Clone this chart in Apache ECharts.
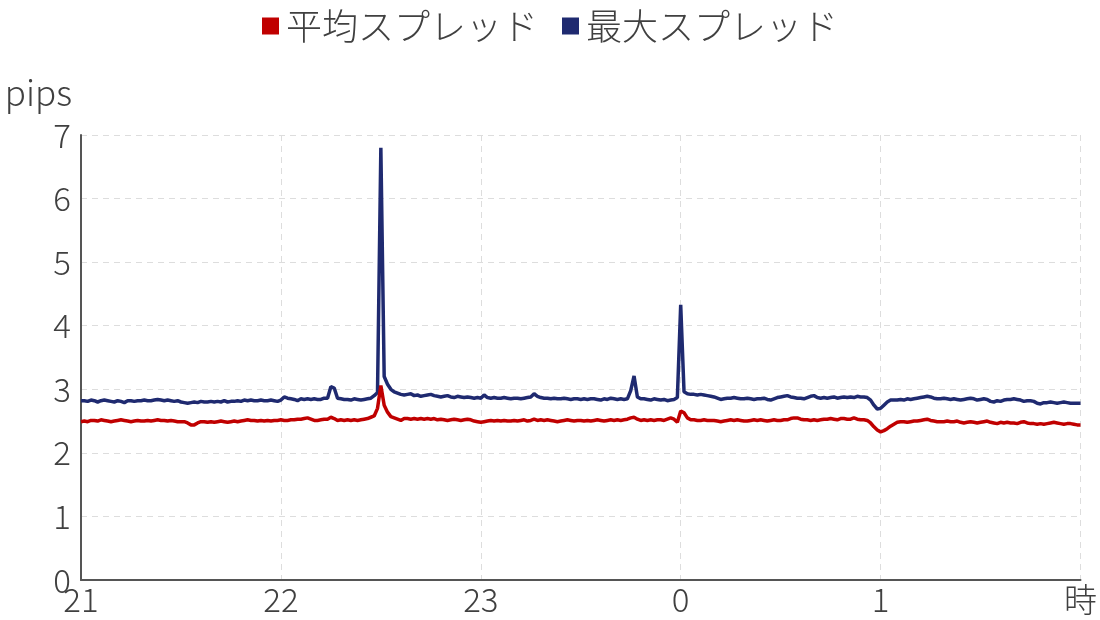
<!DOCTYPE html>
<html>
<head>
<meta charset="utf-8">
<script src="https://cdn.jsdelivr.net/npm/echarts@6/dist/echarts.min.js"></script>
<style>
html,body{margin:0;padding:0;background:#fff;}
#chart{width:1100px;height:620px;}
</style>
</head>
<body>
<div id="chart"></div>
<script>
const seriesNames = ['平均スプレッド', '最大スプレッド'];
const xTickLabels = ['21', '22', '23', '0', '1', '時'];
const yTickLabels = ['0', '1', '2', '3', '4', '5', '6', '7'];
const yAxisName = 'pips';

// one value per minute from 21:00 to 02:00
const avgSpread = [
  2.49,2.50,2.49,2.51,2.51,2.50,2.52,2.51,2.50,2.49,
  2.50,2.51,2.52,2.51,2.50,2.49,2.50,2.51,2.50,2.50,
  2.51,2.50,2.51,2.52,2.51,2.51,2.50,2.51,2.50,2.49,
  2.49,2.49,2.47,2.44,2.44,2.47,2.49,2.49,2.48,2.49,
  2.48,2.49,2.50,2.49,2.48,2.49,2.50,2.49,2.50,2.51,
  2.52,2.51,2.51,2.50,2.51,2.50,2.51,2.50,2.51,2.51,
  2.52,2.51,2.51,2.52,2.52,2.53,2.53,2.54,2.55,2.53,
  2.51,2.51,2.52,2.53,2.53,2.56,2.54,2.51,2.52,2.51,
  2.52,2.51,2.52,2.51,2.52,2.53,2.54,2.56,2.58,2.70,
  3.06,2.75,2.64,2.57,2.55,2.53,2.51,2.54,2.54,2.53,
  2.54,2.53,2.54,2.53,2.54,2.53,2.54,2.52,2.53,2.52,
  2.51,2.52,2.53,2.52,2.51,2.52,2.53,2.52,2.50,2.49,
  2.48,2.49,2.50,2.51,2.50,2.51,2.50,2.51,2.50,2.50,
  2.51,2.50,2.51,2.52,2.50,2.51,2.53,2.51,2.52,2.51,
  2.52,2.51,2.50,2.49,2.50,2.51,2.52,2.51,2.50,2.51,
  2.51,2.50,2.51,2.50,2.51,2.52,2.51,2.50,2.51,2.52,
  2.51,2.52,2.51,2.52,2.53,2.55,2.56,2.53,2.51,2.52,
  2.51,2.52,2.51,2.52,2.52,2.51,2.53,2.55,2.53,2.48,
  2.66,2.63,2.55,2.52,2.52,2.51,2.51,2.52,2.51,2.51,
  2.51,2.50,2.49,2.50,2.51,2.52,2.51,2.52,2.51,2.50,
  2.50,2.51,2.52,2.51,2.52,2.51,2.50,2.51,2.52,2.51,
  2.51,2.52,2.52,2.54,2.55,2.55,2.53,2.52,2.52,2.51,
  2.52,2.51,2.52,2.53,2.53,2.54,2.53,2.52,2.54,2.54,
  2.53,2.53,2.55,2.53,2.52,2.52,2.51,2.47,2.41,2.36,
  2.33,2.35,2.38,2.42,2.45,2.48,2.49,2.49,2.48,2.49,
  2.50,2.50,2.51,2.52,2.53,2.51,2.50,2.49,2.49,2.49,
  2.50,2.49,2.49,2.50,2.48,2.47,2.48,2.49,2.48,2.47,
  2.48,2.49,2.50,2.48,2.47,2.46,2.48,2.47,2.48,2.47,
  2.47,2.46,2.48,2.49,2.47,2.46,2.46,2.45,2.46,2.45,
  2.46,2.47,2.48,2.47,2.46,2.45,2.46,2.46,2.45,2.44,
  2.44
];
const maxSpread = [
  2.82,2.82,2.81,2.83,2.82,2.80,2.82,2.83,2.82,2.81,
  2.80,2.82,2.81,2.79,2.82,2.82,2.81,2.82,2.82,2.83,
  2.82,2.82,2.83,2.84,2.83,2.82,2.83,2.82,2.81,2.82,
  2.80,2.79,2.78,2.79,2.80,2.79,2.81,2.80,2.80,2.81,
  2.80,2.81,2.80,2.82,2.80,2.81,2.81,2.82,2.81,2.83,
  2.82,2.83,2.82,2.82,2.83,2.82,2.82,2.83,2.82,2.81,
  2.83,2.88,2.86,2.85,2.84,2.82,2.85,2.84,2.85,2.84,
  2.85,2.84,2.84,2.86,2.86,3.04,3.02,2.86,2.85,2.84,
  2.84,2.83,2.85,2.84,2.83,2.84,2.85,2.86,2.90,2.95,
  6.80,3.20,3.08,3.00,2.96,2.94,2.92,2.91,2.92,2.93,
  2.90,2.91,2.89,2.90,2.91,2.92,2.90,2.89,2.88,2.89,
  2.90,2.88,2.87,2.89,2.88,2.87,2.88,2.87,2.86,2.87,
  2.86,2.91,2.87,2.86,2.87,2.86,2.86,2.87,2.86,2.85,
  2.86,2.86,2.85,2.86,2.87,2.88,2.93,2.89,2.87,2.86,
  2.86,2.85,2.86,2.85,2.85,2.86,2.85,2.84,2.85,2.85,
  2.84,2.85,2.84,2.85,2.85,2.84,2.83,2.85,2.84,2.86,
  2.85,2.84,2.85,2.84,2.85,2.98,3.21,2.88,2.85,2.85,
  2.84,2.83,2.85,2.84,2.83,2.84,2.82,2.83,2.84,2.87,
  4.33,2.96,2.93,2.92,2.92,2.91,2.92,2.91,2.90,2.89,
  2.88,2.86,2.84,2.85,2.86,2.86,2.87,2.86,2.85,2.85,
  2.86,2.85,2.84,2.85,2.85,2.86,2.84,2.83,2.85,2.87,
  2.88,2.89,2.90,2.88,2.87,2.86,2.86,2.85,2.87,2.89,
  2.90,2.87,2.86,2.87,2.86,2.87,2.88,2.86,2.87,2.88,
  2.87,2.88,2.87,2.89,2.88,2.88,2.87,2.83,2.75,2.69,
  2.70,2.75,2.80,2.83,2.83,2.83,2.84,2.83,2.85,2.84,
  2.85,2.86,2.87,2.88,2.89,2.88,2.86,2.85,2.85,2.86,
  2.85,2.84,2.85,2.84,2.83,2.84,2.85,2.86,2.85,2.83,
  2.84,2.85,2.84,2.81,2.80,2.82,2.81,2.83,2.84,2.84,
  2.85,2.84,2.83,2.81,2.82,2.82,2.81,2.78,2.77,2.79,
  2.79,2.80,2.79,2.78,2.79,2.80,2.79,2.78,2.78,2.78,
  2.78
];

const colors = ['#C00000', '#1F2A70'];
const textColor = '#404040';
const font = '"Noto Sans CJK JP", "Noto Sans", sans-serif';

const toPairs = arr => arr.map((v, i) => [i, v]);

const chart = echarts.init(document.getElementById('chart'), null, {renderer: 'canvas'});
chart.setOption({
  animation: false,
  color: colors,
  textStyle: {fontFamily: font},
  legend: {
    top: 3,
    left: 'center',
    icon: 'rect',
    itemWidth: 17,
    itemHeight: 17,
    itemGap: 24,
    textStyle: {fontSize: 36, color: textColor, fontWeight: 300, fontFamily: font, padding: [0, 0, 0, 2]},
    data: seriesNames
  },
  grid: {left: 81, right: 16, top: 135, bottom: 40, containLabel: false},
  xAxis: {
    type: 'value',
    min: 0,
    max: 300,
    interval: 60,
    axisLine: {show: true, lineStyle: {color: '#555', width: 2}},
    axisTick: {show: false},
    axisLabel: {
      color: textColor, fontSize: 33, fontWeight: 300, fontFamily: font, margin: 3,
      formatter: (v) => xTickLabels[Math.round(v / 60)]
    },
    splitLine: {show: true, lineStyle: {color: '#ddd', type: [6, 5], width: 1}}
  },
  yAxis: {
    type: 'value',
    min: 0,
    max: 7,
    interval: 1,
    name: yAxisName,
    nameLocation: 'end',
    nameGap: 25,
    nameTextStyle: {color: textColor, fontSize: 35, fontWeight: 300, fontFamily: font, align: 'right', padding: [0, 9, 0, 0]},
    axisLine: {show: true, lineStyle: {color: '#555', width: 2}},
    axisTick: {show: false},
    axisLabel: {
      color: textColor, fontSize: 33, fontWeight: 300, fontFamily: font, margin: 10,
      formatter: (v) => yTickLabels[Math.round(v)]
    },
    splitLine: {show: true, lineStyle: {color: '#ddd', type: [6, 5], width: 1}}
  },
  series: [
    {name: seriesNames[0], type: 'line', data: toPairs(avgSpread), showSymbol: false, symbol: 'none', lineStyle: {width: 3.5}, z: 3},
    {name: seriesNames[1], type: 'line', data: toPairs(maxSpread), showSymbol: false, symbol: 'none', lineStyle: {width: 3.5}, z: 2}
  ]
});
</script>
</body>
</html>
